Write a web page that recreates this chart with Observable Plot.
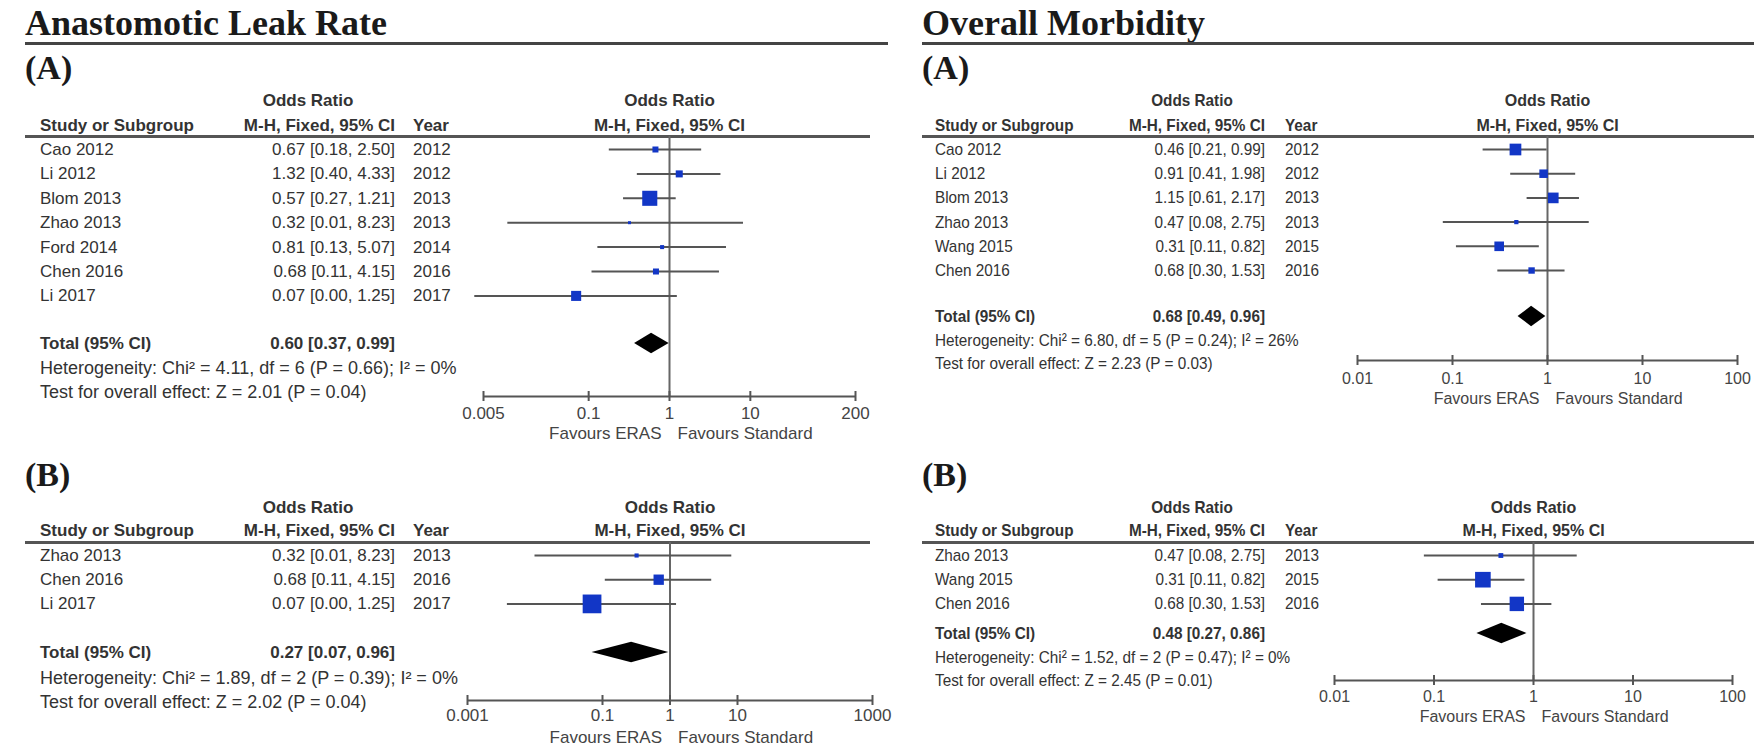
<!DOCTYPE html>
<html><head><meta charset="utf-8">
<script src="https://cdn.jsdelivr.net/npm/d3@7"></script>
<script src="https://cdn.jsdelivr.net/npm/@observablehq/plot@0.6"></script>
<style>
body{margin:0;background:#fff;}
#root{position:relative;width:1754px;height:746px;overflow:hidden;font-family:Arial,"Liberation Sans",sans-serif;color:#333;background:#fff;}
.t{position:absolute;white-space:nowrap;line-height:1;}
.hr{position:absolute;}
svg{position:absolute;overflow:visible;}
</style></head><body><div id="root"></div>
<script>
// ---------- DATA ----------
// Anastomotic Leak Rate (A)
const LA_study = ["Cao 2012","Li 2012","Blom 2013","Zhao 2013","Ford 2014","Chen 2016","Li 2017"];
const LA_or    = [0.67, 1.32, 0.57, 0.32, 0.81, 0.68, 0.07];
const LA_lo    = [0.18, 0.40, 0.27, 0.01, 0.13, 0.11, 0.0039];
const LA_hi    = [2.50, 4.33, 1.21, 8.23, 5.07, 4.15, 1.25];
const LA_year  = [2012, 2012, 2013, 2013, 2014, 2016, 2017];
const LA_w     = [7.6, 10.4, 47.8, 1.9, 3.4, 7.6, 21.3];
const LA_total = [0.60, 0.37, 0.99];
const LA_het   = "Heterogeneity: Chi² = 4.11, df = 6 (P = 0.66); I² = 0%";
const LA_test  = "Test for overall effect: Z = 2.01 (P = 0.04)";
const LA_ticks = [0.005, 0.1, 1, 10, 200];
// Anastomotic Leak Rate (B)
const LB_study = ["Zhao 2013","Chen 2016","Li 2017"];
const LB_or    = [0.32, 0.68, 0.07];
const LB_lo    = [0.01, 0.11, 0.0039];
const LB_hi    = [8.23, 4.15, 1.25];
const LB_year  = [2013, 2016, 2017];
const LB_w     = [3.6, 22.5, 73.9];
const LB_total = [0.27, 0.07, 0.96];
const LB_het   = "Heterogeneity: Chi² = 1.89, df = 2 (P = 0.39); I² = 0%";
const LB_test  = "Test for overall effect: Z = 2.02 (P = 0.04)";
const LB_ticks = [0.001, 0.1, 1, 10, 1000];
// Overall Morbidity (A)
const RA_study = ["Cao 2012","Li 2012","Blom 2013","Zhao 2013","Wang 2015","Chen 2016"];
const RA_or    = [0.46, 0.91, 1.15, 0.47, 0.31, 0.68];
const RA_lo    = [0.21, 0.41, 0.61, 0.08, 0.11, 0.30];
const RA_hi    = [0.99, 1.98, 2.17, 2.75, 0.82, 1.53];
const RA_year  = [2012, 2012, 2013, 2013, 2015, 2016];
const RA_w     = [28.9, 15.3, 23.9, 3.8, 19.4, 8.6];
const RA_total = [0.68, 0.49, 0.96];
const RA_het   = "Heterogeneity: Chi² = 6.80, df = 5 (P = 0.24); I² = 26%";
const RA_test  = "Test for overall effect: Z = 2.23 (P = 0.03)";
const RA_ticks = [0.01, 0.1, 1, 10, 100];
// Overall Morbidity (B)
const RB_study = ["Zhao 2013","Wang 2015","Chen 2016"];
const RB_or    = [0.47, 0.31, 0.68];
const RB_lo    = [0.08, 0.11, 0.30];
const RB_hi    = [2.75, 0.82, 1.53];
const RB_year  = [2013, 2015, 2016];
const RB_w     = [4.9, 51.4, 43.7];
const RB_total = [0.48, 0.27, 0.86];
const RB_het   = "Heterogeneity: Chi² = 1.52, df = 2 (P = 0.47); I² = 0%";
const RB_test  = "Test for overall effect: Z = 2.45 (P = 0.01)";
const RB_ticks = [0.01, 0.1, 1, 10, 100];

const titles = ["Anastomotic Leak Rate", "Overall Morbidity"];

// ---------- LAYOUT ----------
const root = document.getElementById("root");
const f2 = d3.format(".2f");
const SANS = "Arial, 'Liberation Sans', sans-serif";
const SERIF = "'Liberation Serif', 'Times New Roman', serif";
const BLUE = "#1236c6";

function txt(x, y, s, o = {}) {
  const d = document.createElement("div");
  d.className = "t";
  d.textContent = s;
  const a = o.anchor || "start", sx = o.sx || 1;
  d.style.left = x + "px";
  d.style.top = y + "px";
  d.style.fontSize = (o.size || 17) + "px";
  d.style.fontWeight = o.weight || "normal";
  d.style.fontFamily = o.family || SANS;
  d.style.color = o.color || "#333";
  const tx = a === "end" ? "-100%" : a === "middle" ? "-50%" : "0";
  d.style.transformOrigin = (a === "end" ? "100%" : a === "middle" ? "50%" : "0") + " 50%";
  d.style.transform = `translate(${tx},-50%) scaleX(${sx})`;
  root.appendChild(d);
}
function hline(x1, x2, y, w, c) {
  const d = document.createElement("div");
  d.className = "hr";
  d.style.left = x1 + "px"; d.style.width = (x2 - x1) + "px";
  d.style.top = (y - w / 2) + "px"; d.style.height = w + "px";
  d.style.background = c;
  root.appendChild(d);
}

// titles
txt(25, 23, titles[0], {size: 36, weight: "bold", family: SERIF, color: "#1a1a1a"});
txt(922, 23, titles[1], {size: 36, weight: "bold", family: SERIF, color: "#1a1a1a"});
hline(25, 888, 43, 3, "#444");
hline(922, 1754, 43, 3, "#444");

function panel(D, L) {
  const sx = L.sx;
  txt(L.labelX, L.labelY, L.label, {size: 34, weight: "bold", family: SERIF, color: "#1a1a1a"});
  // table header
  txt(L.orHdrX, L.hdrY1, "Odds Ratio", {anchor: "middle", weight: "bold", sx});
  txt(L.textX, L.hdrY2, "Study or Subgroup", {weight: "bold", sx});
  txt(L.valX, L.hdrY2, "M-H, Fixed, 95% CI", {anchor: "end", weight: "bold", sx});
  txt(L.yearX, L.hdrY2, "Year", {weight: "bold", sx});
  hline(L.ruleX1, L.ruleX2, L.ruleY, 3, "#555");
  // rows
  D.study.forEach((s, i) => {
    const y = L.row0 + i * L.rowH;
    txt(L.textX, y, s, {sx});
    txt(L.valX, y, `${f2(D.or[i])} [${f2(D.lo[i])}, ${f2(D.hi[i])}]`, {anchor: "end", sx});
    txt(L.yearX, y, String(D.year[i]), {sx});
  });
  txt(L.textX, L.totalY, "Total (95% CI)", {weight: "bold", sx});
  txt(L.valX, L.totalY, `${f2(D.total[0])} [${f2(D.total[1])}, ${f2(D.total[2])}]`, {anchor: "end", weight: "bold", sx});
  txt(L.textX, L.hetY, D.het, {sx, size: L.statFs});
  txt(L.textX, L.testY, D.test, {sx, size: L.statFs});

  // forest plot
  const toRow = Y => (Y - L.row0) / L.rowH;
  const rows = D.study.map((s, i) => ({or: D.or[i], lo: D.lo[i], hi: D.hi[i], w: D.w[i], y: i}));
  const ty = toRow(L.totalY), dh = 0.42;
  const diamond = [
    {y: ty - dh, x1: D.total[0], x2: D.total[0]},
    {y: ty, x1: D.total[1], x2: D.total[2]},
    {y: ty + dh, x1: D.total[0], x2: D.total[0]}
  ];
  const ticks = D.ticks, axisV = toRow(L.axisY), tl = 5 / L.rowH;
  const pfs = L.plotFs;
  const p = Plot.plot({
    width: L.svg.w, height: L.svg.h,
    marginTop: 0, marginRight: 0, marginBottom: 0, marginLeft: 0,
    style: {background: "transparent", fontFamily: SANS, fontSize: pfs + "px", color: "#333", overflow: "visible"},
    x: {type: "log", domain: [ticks[0], ticks[ticks.length - 1]], range: [L.xRange[0] - L.svg.left, L.xRange[1] - L.svg.left], axis: null},
    y: {type: "linear", domain: [0, 1], range: [L.row0 - L.svg.top, L.row0 + L.rowH - L.svg.top], axis: null},
    r: {type: "sqrt", domain: [0, 100], range: [0, 12.3]},
    marks: [
      Plot.text(["Odds Ratio"], {x: 1, y: toRow(L.hdrY1), text: d => d, fontWeight: "bold", fill: "#333", fontSize: pfs}),
      Plot.text(["M-H, Fixed, 95% CI"], {x: 1, y: toRow(L.hdrY2), text: d => d, fontWeight: "bold", fill: "#333", fontSize: pfs}),
      Plot.ruleX([1], {y1: toRow(L.ruleY), y2: axisV, stroke: "#666", strokeWidth: 2}),
      Plot.ruleY([axisV], {x1: ticks[0], x2: ticks[ticks.length - 1], stroke: "#555", strokeWidth: 2}),
      Plot.ruleX(ticks, {x: d => d, y1: axisV - tl, y2: axisV + tl, stroke: "#555", strokeWidth: 2}),
      Plot.text(ticks, {x: d => d, y: toRow(L.tickLblY), text: d => String(d), fill: "#444", fontSize: pfs}),
      Plot.text(["Favours ERAS"], {x: 1, y: toRow(L.favY), text: d => d, textAnchor: "end", dx: -8, fill: "#444", fontSize: pfs}),
      Plot.text(["Favours Standard"], {x: 1, y: toRow(L.favY), text: d => d, textAnchor: "start", dx: 8, fill: "#444", fontSize: pfs}),
      Plot.ruleY(rows, {y: "y", x1: "lo", x2: "hi", stroke: "#555", strokeWidth: 2}),
      Plot.dot(rows, {x: "or", y: "y", r: "w", symbol: "square", fill: BLUE, stroke: "none"}),
      Plot.areaX(diamond, {y: "y", x1: "x1", x2: "x2", fill: "#000"})
    ]
  });
  p.style.left = L.svg.left + "px";
  p.style.top = L.svg.top + "px";
  root.appendChild(p);
}

panel({study: LA_study, or: LA_or, lo: LA_lo, hi: LA_hi, year: LA_year, w: LA_w, total: LA_total, het: LA_het, test: LA_test, ticks: LA_ticks},
  {label: "(A)", labelX: 25, labelY: 68, textX: 40, valX: 395, yearX: 413, orHdrX: 308, hdrY1: 100, hdrY2: 125,
   ruleY: 136, ruleX1: 25, ruleX2: 870, row0: 149, rowH: 24.4, totalY: 343, hetY: 368, testY: 392,
   axisY: 396, tickLblY: 413, favY: 433, xRange: [483, 855], svg: {left: 440, top: 80, w: 440, h: 370}, sx: 1, plotFs: 17, statFs: 18});

panel({study: LB_study, or: LB_or, lo: LB_lo, hi: LB_hi, year: LB_year, w: LB_w, total: LB_total, het: LB_het, test: LB_test, ticks: LB_ticks},
  {label: "(B)", labelX: 25, labelY: 475, textX: 40, valX: 395, yearX: 413, orHdrX: 308, hdrY1: 507, hdrY2: 530,
   ruleY: 542, ruleX1: 25, ruleX2: 870, row0: 555, rowH: 24.2, totalY: 652, hetY: 678, testY: 702,
   axisY: 700, tickLblY: 715, favY: 737, xRange: [467, 872], svg: {left: 440, top: 490, w: 440, h: 256}, sx: 1, plotFs: 17, statFs: 18});

panel({study: RA_study, or: RA_or, lo: RA_lo, hi: RA_hi, year: RA_year, w: RA_w, total: RA_total, het: RA_het, test: RA_test, ticks: RA_ticks},
  {label: "(A)", labelX: 922, labelY: 68, textX: 935, valX: 1265, yearX: 1285, orHdrX: 1192, hdrY1: 100, hdrY2: 125,
   ruleY: 136, ruleX1: 922, ruleX2: 1754, row0: 149, rowH: 24.2, totalY: 316, hetY: 340, testY: 363,
   axisY: 360, tickLblY: 378, favY: 398, xRange: [1357, 1737], svg: {left: 1300, top: 80, w: 454, h: 340}, sx: 0.9, plotFs: 16, statFs: 17});

panel({study: RB_study, or: RB_or, lo: RB_lo, hi: RB_hi, year: RB_year, w: RB_w, total: RB_total, het: RB_het, test: RB_test, ticks: RB_ticks},
  {label: "(B)", labelX: 922, labelY: 475, textX: 935, valX: 1265, yearX: 1285, orHdrX: 1192, hdrY1: 507, hdrY2: 530,
   ruleY: 542, ruleX1: 922, ruleX2: 1754, row0: 555, rowH: 24.2, totalY: 633, hetY: 657, testY: 680,
   axisY: 680, tickLblY: 696, favY: 716, xRange: [1334, 1732], svg: {left: 1300, top: 490, w: 454, h: 256}, sx: 0.9, plotFs: 16, statFs: 17});
</script></body></html>
